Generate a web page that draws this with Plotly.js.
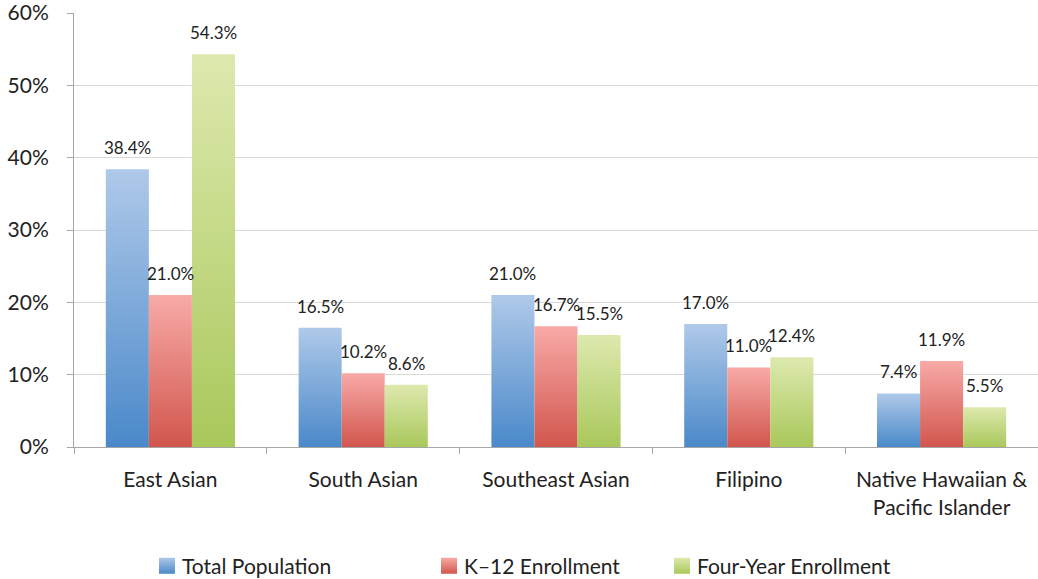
<!DOCTYPE html>
<html>
<head>
<meta charset="utf-8">
<script src="https://cdn.plot.ly/plotly-3.0.1.min.js"></script>
<style>
  html, body { margin: 0; padding: 0; background: #ffffff; }
  #chart { width: 1038px; height: 579px; }
</style>
</head>
<body>
<div id="chart"></div>
<script>
const categories = ['East Asian', 'South Asian', 'Southeast Asian', 'Filipino', 'Native Hawaiian &<br>Pacific Islander'];
const seriesNames = ['Total Population', 'K\u201312 Enrollment', 'Four-Year Enrollment'];
const totalPopulation = [38.4, 16.5, 21.0, 17.0, 7.4];
const k12Enrollment = [21.0, 10.2, 16.7, 11.0, 11.9];
const fourYearEnrollment = [54.3, 8.6, 15.5, 12.4, 5.5];
const yTickVals = [0, 10, 20, 30, 40, 50, 60];
const yTickText = ['0%', '10%', '20%', '30%', '40%', '50%', '60%'];

const seriesValues = [totalPopulation, k12Enrollment, fourYearEnrollment];
const topColors = ['#afc9e9', '#f8aaa7', '#dde9ae'];
const bottomColors = ['#4a89c9', '#d1564d', '#a9c85b'];
const midColors = ['#7ba7d8', '#e5807a', '#c3d984'];
const legendIds = ['legend', 'legend2', 'legend3'];
const legendX = [142, 424, 657];

const W = 1038, H = 579;
const M = { l: 74, r: 0, t: 13, b: 132, autoexpand: false };
const bargap = 0.33;
const plotW = W - M.l - M.r;
const plotH = H - M.t - M.b;
const barPx = plotW / categories.length * (1 - bargap) / 3;

const FONT = 'Lato, "Open Sans", sans-serif';
const textColor = '#222222';

const traces = seriesValues.map((vals, s) => ({
  type: 'bar',
  name: seriesNames[s],
  x: categories,
  y: vals,
  marker: { color: midColors[s], line: { width: 0 } },
  legend: legendIds[s],
  hoverinfo: 'skip'
}));

const annotations = [];
seriesValues.forEach((vals, s) => {
  vals.forEach((v, i) => {
    annotations.push({
      x: categories[i], y: v, xref: 'x', yref: 'y',
      text: v.toFixed(1) + '%',
      showarrow: false,
      xanchor: 'center', yanchor: 'bottom',
      xshift: (s - 1) * barPx,
      yshift: 9,
      font: { family: FONT, size: 17, color: textColor }
    });
  });
});

const legendBase = {
  orientation: 'h',
  yanchor: 'middle',
  xanchor: 'left',
  y: (M.t + plotH - 566) / plotH,
  font: { family: FONT, size: 21, color: textColor },
  bgcolor: 'rgba(0,0,0,0)',
  borderwidth: 0
};

const layout = {
  width: W, height: H,
  margin: M,
  paper_bgcolor: '#ffffff',
  plot_bgcolor: '#ffffff',
  barmode: 'group',
  bargap: bargap,
  bargroupgap: 0,
  font: { family: FONT, color: textColor },
  xaxis: {
    type: 'category',
    automargin: false,
    showgrid: false,
    showline: true,
    linecolor: '#a6a6a6',
    linewidth: 1,
    ticks: 'outside',
    tickson: 'boundaries',
    ticklen: 6,
    tickcolor: '#a6a6a6',
    tickfont: { family: FONT, size: 21, color: textColor },
    ticklabelstandoff: 14,
    ticklabeloverflow: 'allow',
    zeroline: false
  },
  yaxis: {
    automargin: false,
    range: [0, 60.0001],
    tickvals: yTickVals,
    ticktext: yTickText,
    showgrid: true,
    gridcolor: '#d9d9d9',
    gridwidth: 1,
    showline: true,
    linecolor: '#a6a6a6',
    linewidth: 1,
    ticks: 'outside',
    ticklen: 6,
    tickcolor: '#a6a6a6',
    tickfont: { family: FONT, size: 21, color: textColor },
    ticklabelstandoff: 14,
    ticklabeloverflow: 'allow',
    zeroline: false,
    fixedrange: true
  },
  annotations: annotations,
  showlegend: true
};
legendIds.forEach((id, s) => {
  layout[id] = Object.assign({}, legendBase, { x: (legendX[s] - M.l) / plotW });
});

Plotly.newPlot('chart', traces, layout, { staticPlot: true, displayModeBar: false }).then(gd => {
  const NS = 'http://www.w3.org/2000/svg';
  const svg = gd.querySelector('svg.main-svg');
  let defs = svg.querySelector('defs');
  if (!defs) { defs = document.createElementNS(NS, 'defs'); svg.insertBefore(defs, svg.firstChild); }
  topColors.forEach((c, s) => {
    const g = document.createElementNS(NS, 'linearGradient');
    g.setAttribute('id', 'barGrad' + s);
    g.setAttribute('x1', '0'); g.setAttribute('y1', '0');
    g.setAttribute('x2', '0'); g.setAttribute('y2', '1');
    const s1 = document.createElementNS(NS, 'stop');
    s1.setAttribute('offset', '0'); s1.setAttribute('stop-color', c);
    const s2 = document.createElementNS(NS, 'stop');
    s2.setAttribute('offset', '1'); s2.setAttribute('stop-color', bottomColors[s]);
    g.appendChild(s1); g.appendChild(s2);
    defs.appendChild(g);
  });
  gd.querySelectorAll('.barlayer .trace.bars').forEach((tr, s) => {
    tr.querySelectorAll('path').forEach(p => { p.style.fill = 'url(#barGrad' + s + ')'; });
  });
  gd.querySelectorAll('.legendpoints path').forEach((p, s) => {
    p.setAttribute('d', 'M13,8H-3V-8H13Z');
    p.style.fill = 'url(#barGrad' + (s % 3) + ')';
    p.style.stroke = 'none';
  });
});
</script>
</body>
</html>
